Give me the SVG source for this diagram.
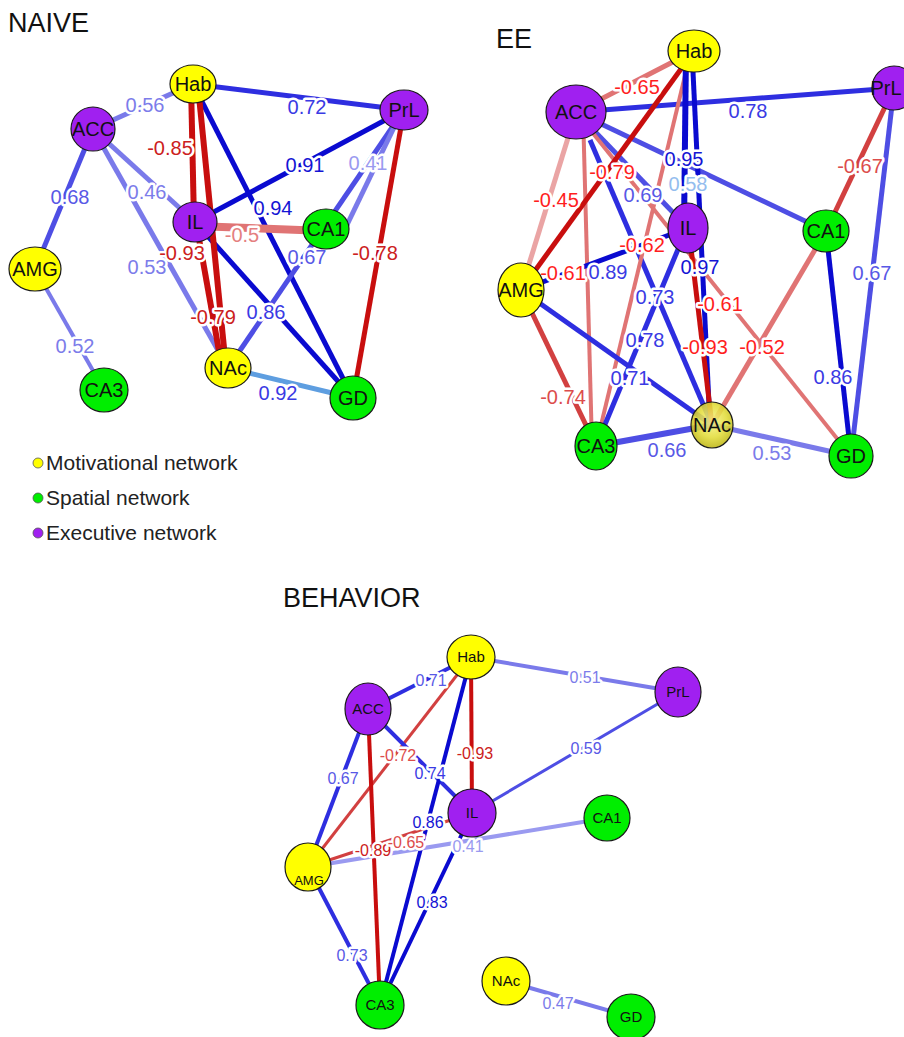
<svg xmlns="http://www.w3.org/2000/svg" width="904" height="1037" viewBox="0 0 904 1037">
<defs>
  <radialGradient id="glossY" cx="50%" cy="42%" r="58%">
    <stop offset="0" stop-color="#f8f48a"/>
    <stop offset="0.6" stop-color="#e2dc3a"/>
    <stop offset="1" stop-color="#bdb514"/>
  </radialGradient>
</defs>
<style>
  text{font-family:"Liberation Sans",Arial,Helvetica,sans-serif}
  .title{font-size:27px;fill:#111}
  .edges line{fill:none;stroke-linecap:butt}
  line.b1{stroke:#0a0ad0} text.b1{fill:#1414d4}
  line.b2{stroke:#2e2ee0} text.b2{fill:#3a3ae4}
  line.b3{stroke:#4e4ee4} text.b3{fill:#5858e6}
  line.b4{stroke:#7a7aea} text.b4{fill:#7c7cea}
  line.b5{stroke:#9a9af0} text.b5{fill:#9a9af0}
  line.sb{stroke:#5e9ee0} text.sb{fill:#94bdee}
  line.r1{stroke:#c80e0e} text.r1{fill:#cc2020}
  line.r2{stroke:#d24040} text.r2{fill:#dc4c4c}
  line.r3{stroke:#e07474} text.r3{fill:#e48080}
  line.r4{stroke:#eaa4a4} text.r4{fill:#eaa4a4}
  text.rb{fill:#ff1e1e}
  .nd{stroke:#1a1a1a;stroke-width:1.2}
  .yel{fill:#ffff00}
  .grn{fill:#00ee00}
  .pur{fill:#a020f0}
  .gloss{fill:url(#glossY);fill-opacity:0.88}
  .nl{text-anchor:middle;fill:#111}
  .n20{font-size:20px}
  .n15{font-size:15px}
  .n13{font-size:13px}
  .el{text-anchor:middle;paint-order:stroke;stroke:#fff;stroke-width:5px;stroke-linejoin:round}
  .e20{font-size:20px}
  .e16{font-size:16px}
  .leg{font-size:21px;fill:#222}
  .dot{stroke:#555;stroke-width:0.8}
</style>
<rect width="904" height="1037" fill="#fff"/>

<!-- ===================== NAIVE ===================== -->
<text class="title" x="8" y="32">NAIVE</text>
<g id="naive-edges" class="edges">
  <line class="b4" stroke-width="5" x1="93" y1="129" x2="193" y2="84"/>
  <line class="b2" stroke-width="5" x1="193" y1="84" x2="404" y2="110"/>
  <line class="b1" stroke-width="5" x1="193" y1="84" x2="353" y2="398"/>
  <line class="b1" stroke-width="5" x1="195" y1="222" x2="404" y2="110"/>
  <line class="b4" stroke-width="5" x1="93" y1="129" x2="195" y2="222"/>
  <line class="b4" stroke-width="5" x1="93" y1="129" x2="228" y2="368"/>
  <line class="b3" stroke-width="5" x1="93" y1="129" x2="35" y2="269"/>
  <line class="b4" stroke-width="4" x1="35" y1="269" x2="104" y2="390"/>
  <line class="b3" stroke-width="5" x1="228" y1="368" x2="404" y2="110"/>
  <line class="b4" stroke-width="5" x1="345" y1="229" x2="400" y2="115"/>
  <line class="b1" stroke-width="5" x1="195" y1="222" x2="353" y2="398"/>
  <line class="sb" stroke-width="5" x1="228" y1="368" x2="353" y2="398"/>
  <line class="r3" stroke-width="8" x1="195" y1="226" x2="326" y2="231"/>
  <line class="r1" stroke-width="6" x1="191" y1="84" x2="194" y2="222"/>
  <line class="r1" stroke-width="6" x1="198" y1="86" x2="226" y2="368"/>
  <line class="r1" stroke-width="6" x1="196" y1="222" x2="222" y2="368"/>
  <line class="r1" stroke-width="5" x1="404" y1="110" x2="353" y2="398"/>
  <g>
    <text class="el e20 b4" x="145" y="112">0.56</text>
    <text class="el e20 b2" x="307" y="114">0.72</text>
    <text class="el e20 r1" x="170" y="155">-0.85</text>
    <text class="el e20 b1" x="305" y="172">0.91</text>
    <text class="el e20 b5" x="368" y="170">0.41</text>
    <text class="el e20 b1" x="273" y="215">0.94</text>
    <text class="el e20 b4" x="147" y="199">0.46</text>
    <text class="el e20 b3" x="70" y="204">0.68</text>
    <text class="el e20 r3" x="242" y="242">-0.5</text>
    <text class="el e20 r1" x="182" y="260">-0.93</text>
    <text class="el e20 b4" x="147" y="274">0.53</text>
    <text class="el e20 b3" x="307" y="264">0.67</text>
    <text class="el e20 r1" x="375" y="260">-0.78</text>
    <text class="el e20 b2" x="266" y="319">0.86</text>
    <text class="el e20 r1" x="213" y="324">-0.79</text>
    <text class="el e20 b4" x="75" y="353">0.52</text>
    <text class="el e20 b2" x="278" y="400">0.92</text>
  </g>
</g>
<g id="naive-hab"><ellipse class="nd yel" cx="193" cy="84" rx="23" ry="19"/><text class="nl n20" x="193" y="91">Hab</text></g>
<g id="naive-acc"><ellipse class="nd pur" cx="93" cy="129" rx="22" ry="22"/><text class="nl n20" x="93" y="136">ACC</text></g>
<g id="naive-prl"><ellipse class="nd pur" cx="404" cy="110" rx="24" ry="20"/><text class="nl n20" x="404" y="117">PrL</text></g>
<g id="naive-il"><ellipse class="nd pur" cx="195" cy="222" rx="22" ry="20"/><text class="nl n20" x="195" y="229">IL</text></g>
<g id="naive-ca1"><ellipse class="nd grn" cx="326" cy="229" rx="23" ry="20"/><text class="nl n20" x="326" y="236">CA1</text></g>
<g id="naive-amg"><ellipse class="nd yel" cx="35" cy="269" rx="26" ry="22"/><text class="nl n20" x="35" y="276">AMG</text></g>
<g id="naive-ca3"><ellipse class="nd grn" cx="104" cy="390" rx="24" ry="22"/><text class="nl n20" x="104" y="397">CA3</text></g>
<g id="naive-nac"><ellipse class="nd yel" cx="228" cy="368" rx="23" ry="20"/><text class="nl n20" x="228" y="375">NAc</text></g>
<g id="naive-gd"><ellipse class="nd grn" cx="353" cy="398" rx="23" ry="22"/><text class="nl n20" x="353" y="405">GD</text></g>

<!-- legend -->
<g id="legend">
  <circle class="dot yel" cx="38" cy="463" r="5"/>
  <text class="leg" x="46" y="470">Motivational network</text>
  <circle class="dot grn" cx="38" cy="498" r="5"/>
  <text class="leg" x="46" y="505">Spatial network</text>
  <circle class="dot pur" cx="38" cy="533" r="5"/>
  <text class="leg" x="46" y="540">Executive network</text>
</g>

<!-- ===================== EE ===================== -->
<text class="title" x="496" y="48">EE</text>
<g id="ee-edges" class="edges">
  <line class="r3" stroke-width="5" x1="576" y1="112" x2="694" y2="51"/>
  <line class="b2" stroke-width="5" x1="576" y1="112" x2="894" y2="88"/>
  <line class="r4" stroke-width="5" x1="576" y1="112" x2="521" y2="290"/>
  <line class="r3" stroke-width="4" x1="583" y1="112" x2="592" y2="446"/>
  <line class="b3" stroke-width="5" x1="576" y1="112" x2="826" y2="231"/>
  <line class="b3" stroke-width="5" x1="576" y1="112" x2="688" y2="228"/>
  <line class="b2" stroke-width="5" x1="590" y1="140" x2="712" y2="425"/>
  <line class="r3" stroke-width="4" x1="576" y1="112" x2="851" y2="456"/>
  <line class="r1" stroke-width="5" x1="694" y1="51" x2="521" y2="290"/>
  <line class="r3" stroke-width="4" x1="690" y1="55" x2="596" y2="446"/>
  <line class="b1" stroke-width="6" x1="686" y1="51" x2="684" y2="228"/>
  <line class="b1" stroke-width="5" x1="692" y1="51" x2="710" y2="425"/>
  <line class="b1" stroke-width="5" x1="521" y1="290" x2="688" y2="228"/>
  <line class="b2" stroke-width="5" x1="521" y1="290" x2="712" y2="425"/>
  <line class="r2" stroke-width="5" x1="521" y1="290" x2="596" y2="446"/>
  <line class="b2" stroke-width="5" x1="684" y1="235" x2="596" y2="446"/>
  <line class="r1" stroke-width="5" x1="690" y1="240" x2="712" y2="425"/>
  <line class="r3" stroke-width="5" x1="712" y1="425" x2="826" y2="231"/>
  <line class="r2" stroke-width="5" x1="826" y1="231" x2="894" y2="88"/>
  <line class="b3" stroke-width="5" x1="894" y1="88" x2="851" y2="456"/>
  <line class="b1" stroke-width="5" x1="826" y1="231" x2="851" y2="456"/>
  <line class="b3" stroke-width="6" x1="596" y1="446" x2="712" y2="425"/>
  <line class="b4" stroke-width="5" x1="712" y1="425" x2="851" y2="456"/>
  <g>
    <text class="el e20 rb" x="637" y="94">-0.65</text>
    <text class="el e20 b2" x="748" y="118">0.78</text>
    <text class="el e20 b1" x="684" y="166">0.95</text>
    <text class="el e20 rb" x="612" y="179">-0.79</text>
    <text class="el e20 sb" x="688" y="191">0.58</text>
    <text class="el e20 b3" x="643" y="202">0.69</text>
    <text class="el e20 rb" x="556" y="207">-0.45</text>
    <text class="el e20 r2" x="860" y="173">-0.67</text>
    <text class="el e20 rb" x="642" y="252">-0.62</text>
    <text class="el e20 rb" x="563" y="280">-0.61</text>
    <text class="el e20 b2" x="608" y="279">0.89</text>
    <text class="el e20 b1" x="700" y="274">0.97</text>
    <text class="el e20 b2" x="655" y="304">0.73</text>
    <text class="el e20 rb" x="720" y="311">-0.61</text>
    <text class="el e20 b2" x="645" y="347">0.78</text>
    <text class="el e20 b2" x="630" y="385">0.71</text>
    <text class="el e20 rb" x="705" y="354">-0.93</text>
    <text class="el e20 rb" x="762" y="354">-0.52</text>
    <text class="el e20 b2" x="833" y="384">0.86</text>
    <text class="el e20 b3" x="872" y="280">0.67</text>
    <text class="el e20 r2" x="563" y="404">-0.74</text>
    <text class="el e20 b3" x="667" y="457">0.66</text>
    <text class="el e20 b4" x="772" y="460">0.53</text>
  </g>
</g>
<g id="ee-hab"><ellipse class="nd yel" cx="694" cy="51" rx="26" ry="21"/><text class="nl n20" x="694" y="58">Hab</text></g>
<g id="ee-acc"><ellipse class="nd pur" cx="576" cy="112" rx="30" ry="27"/><text class="nl n20" x="576" y="119">ACC</text></g>
<g id="ee-prl"><ellipse class="nd pur" cx="894" cy="88" rx="22" ry="22"/><text class="nl n20" x="886" y="95">PrL</text></g>
<g id="ee-il"><ellipse class="nd pur" cx="688" cy="228" rx="20" ry="25"/><text class="nl n20" x="688" y="235">IL</text></g>
<g id="ee-ca1"><ellipse class="nd grn" cx="826" cy="231" rx="23" ry="21"/><text class="nl n20" x="826" y="238">CA1</text></g>
<g id="ee-amg"><ellipse class="nd yel" cx="521" cy="290" rx="23" ry="27"/><text class="nl n20" x="521" y="297">AMG</text></g>
<g id="ee-ca3"><ellipse class="nd grn" cx="596" cy="446" rx="21" ry="24"/><text class="nl n20" x="596" y="453">CA3</text></g>
<g id="ee-nac"><ellipse class="nd gloss" cx="712" cy="425" rx="21" ry="23"/><text class="nl n20" x="712" y="432">NAc</text></g>
<g id="ee-gd"><ellipse class="nd grn" cx="851" cy="456" rx="22" ry="22"/><text class="nl n20" x="851" y="463">GD</text></g>

<!-- ===================== BEHAVIOR ===================== -->
<text class="title" x="283" y="607">BEHAVIOR</text>
<g id="behavior-edges" class="edges">
  <line class="b2" stroke-width="4" x1="368" y1="709" x2="471" y2="657"/>
  <line class="b4" stroke-width="4" x1="471" y1="657" x2="678" y2="692"/>
  <line class="r2" stroke-width="3" x1="471" y1="657" x2="308" y2="867"/>
  <line class="b2" stroke-width="4" x1="368" y1="709" x2="472" y2="813"/>
  <line class="r1" stroke-width="4" x1="471" y1="657" x2="472" y2="813"/>
  <line class="b1" stroke-width="4" x1="471" y1="657" x2="380" y2="1005"/>
  <line class="b2" stroke-width="4" x1="368" y1="709" x2="308" y2="867"/>
  <line class="r1" stroke-width="4" x1="368" y1="709" x2="380" y2="1005"/>
  <line class="r2" stroke-width="3" x1="308" y1="867" x2="472" y2="813"/>
  <line class="b5" stroke-width="4" x1="308" y1="867" x2="607" y2="818"/>
  <line class="b3" stroke-width="3" x1="472" y1="813" x2="678" y2="692"/>
  <line class="b1" stroke-width="4" x1="472" y1="813" x2="380" y2="1005"/>
  <line class="b2" stroke-width="4" x1="308" y1="867" x2="380" y2="1005"/>
  <line class="b4" stroke-width="4" x1="506" y1="981" x2="631" y2="1017"/>
  <g>
    <text class="el e16 b3" x="431" y="686">0.71</text>
    <text class="el e16 b4" x="585" y="683">0.51</text>
    <text class="el e16 r2" x="398" y="761">-0.72</text>
    <text class="el e16 r1" x="475" y="759">-0.93</text>
    <text class="el e16 b2" x="430" y="779">0.74</text>
    <text class="el e16 b3" x="343" y="784">0.67</text>
    <text class="el e16 b3" x="586" y="754">0.59</text>
    <text class="el e16 b1" x="428" y="828">0.86</text>
    <text class="el e16 r1" x="373" y="856">-0.89</text>
    <text class="el e16 r2" x="406" y="848">-0.65</text>
    <text class="el e16 b5" x="468" y="852">0.41</text>
    <text class="el e16 b1" x="432" y="908">0.83</text>
    <text class="el e16 b3" x="352" y="961">0.73</text>
    <text class="el e16 b4" x="558" y="1009">0.47</text>
  </g>
</g>
<g id="behavior-hab"><ellipse class="nd yel" cx="471" cy="657" rx="24" ry="22"/><text class="nl n15" x="471" y="662">Hab</text></g>
<g id="behavior-acc"><ellipse class="nd pur" cx="368" cy="709" rx="23" ry="26"/><text class="nl n15" x="368" y="714">ACC</text></g>
<g id="behavior-prl"><ellipse class="nd pur" cx="678" cy="692" rx="23" ry="25"/><text class="nl n15" x="678" y="697">PrL</text></g>
<g id="behavior-il"><ellipse class="nd pur" cx="472" cy="813" rx="24" ry="24"/><text class="nl n15" x="472" y="818">IL</text></g>
<g id="behavior-ca1"><ellipse class="nd grn" cx="607" cy="818" rx="23" ry="23"/><text class="nl n15" x="607" y="823">CA1</text></g>
<g id="behavior-amg"><ellipse class="nd yel" cx="308" cy="867" rx="23" ry="24"/><text class="nl n13" x="309" y="885">AMG</text></g>
<g id="behavior-ca3"><ellipse class="nd grn" cx="380" cy="1005" rx="24" ry="24"/><text class="nl n15" x="380" y="1010">CA3</text></g>
<g id="behavior-nac"><ellipse class="nd yel" cx="506" cy="981" rx="24" ry="24"/><text class="nl n15" x="506" y="986">NAc</text></g>
<g id="behavior-gd"><ellipse class="nd grn" cx="631" cy="1017" rx="24" ry="23"/><text class="nl n15" x="631" y="1022">GD</text></g>
</svg>
